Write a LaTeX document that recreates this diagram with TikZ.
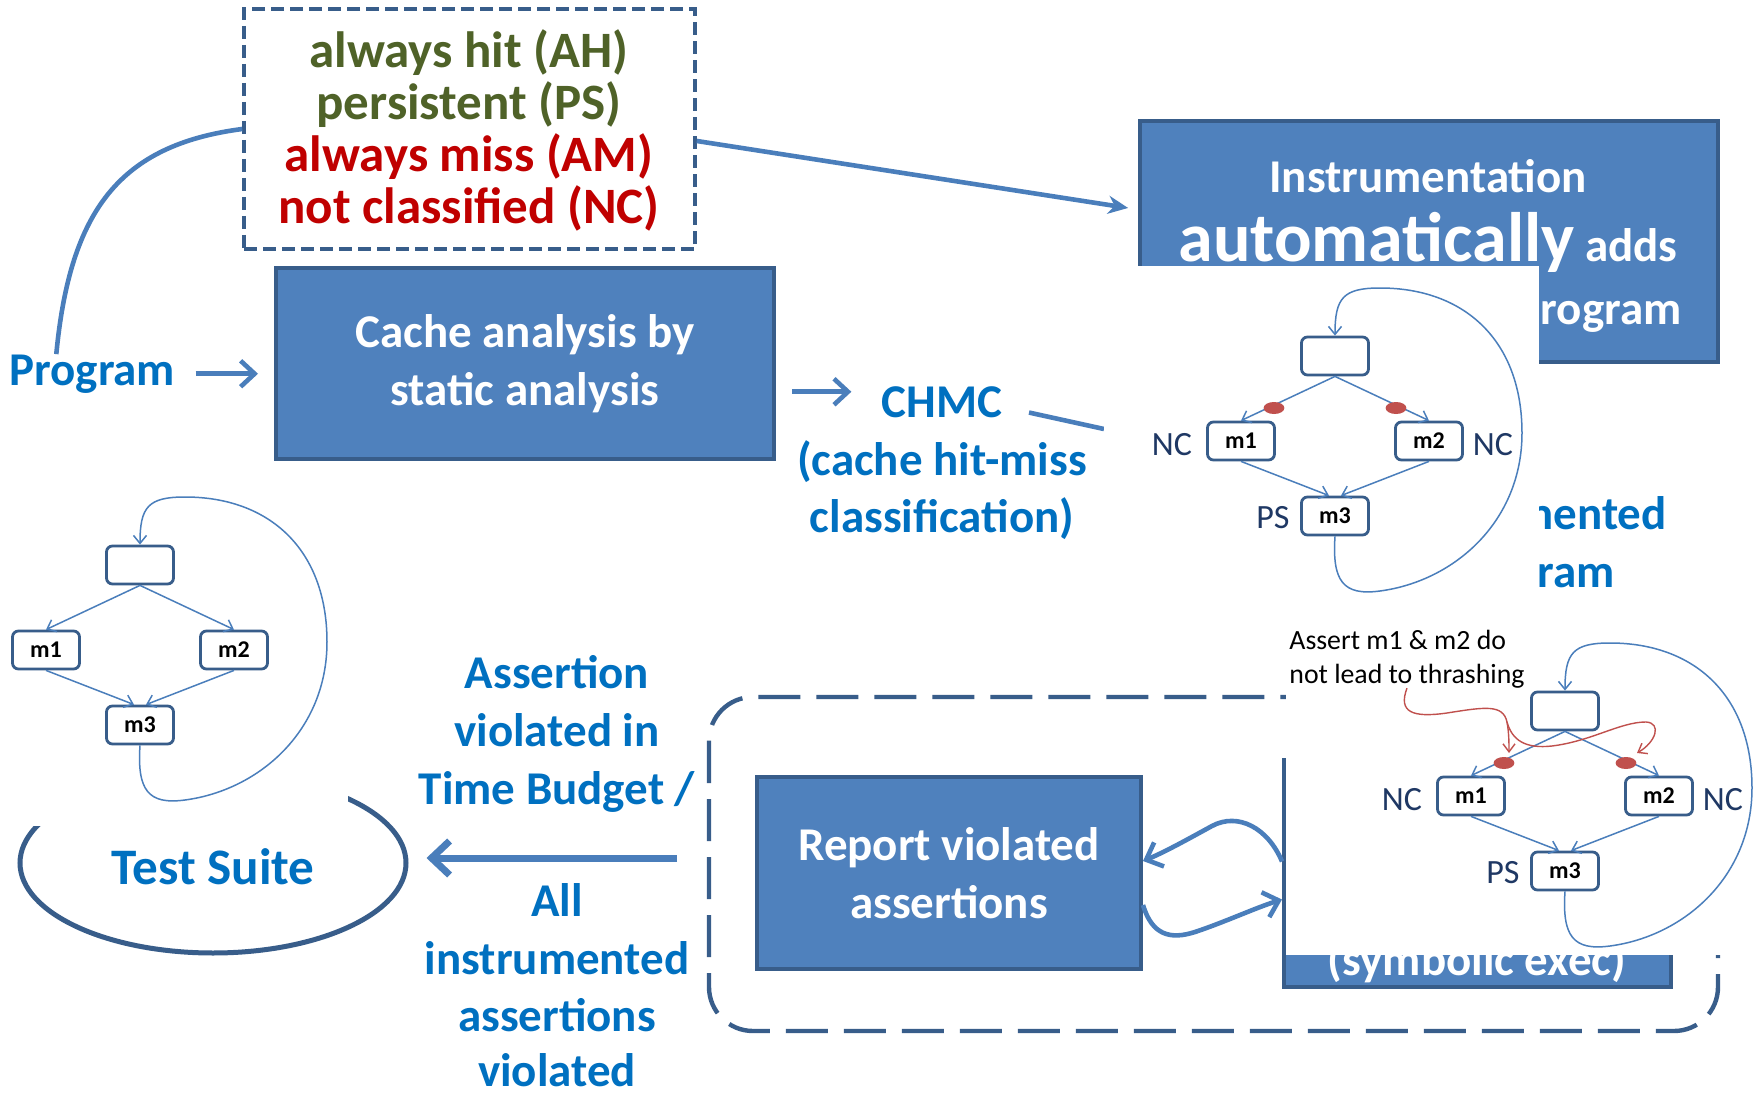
\documentclass[tikz,border=0pt]{standalone}
\usepackage{fontspec}
\setmainfont{Carlito}
\usetikzlibrary{arrows.meta,shapes.geometric}

\definecolor{boxfill}{HTML}{4F81BD}
\definecolor{boxline}{HTML}{385D8A}
\definecolor{linkblue}{HTML}{4A7EBB}
\definecolor{txtblue}{HTML}{0070C0}
\definecolor{clsnavy}{HTML}{1F3864}
\definecolor{hitgreen}{HTML}{4F6228}
\definecolor{missred}{HTML}{C00000}
\definecolor{dotred}{HTML}{C0504D}

\newcommand\txtmain{\fontsize{23.5}{29}\selectfont\bfseries}
\newcommand\txtcomic{\fontsize{25.5}{26}\selectfont\bfseries}
\newcommand\txthuge{\fontsize{35}{36}\selectfont\bfseries}
\newcommand\txtnote{\fontsize{13.9}{17}\selectfont}

\tikzset{
  lbl/.style={inner sep=0pt, font=\txtmain, text=txtblue, anchor=base},
  wlbl/.style={inner sep=0pt, font=\txtmain, text=white, anchor=base},
  comic/.style={inner sep=0pt, font=\txtcomic, anchor=base},
  note/.style={inner sep=0pt, font=\txtnote, anchor=base west},
  proc/.style={draw=boxline, fill=boxfill, line width=2pt, inner sep=0pt, align=center, font=\txtmain, text=white},
  cfgbox/.style={draw=boxline, fill=white, line width=1.4pt, rounded corners=3pt, minimum width=33.5pt, minimum height=19pt, inner sep=0pt, font=\bfseries\fontsize{12}{12}\selectfont},
  cfgedge/.style={draw=linkblue, line width=0.75pt, -{Straight Barb[length=4pt,width=6.5pt]}},
  cls/.style={inner sep=0pt, font=\fontsize{17}{18}\selectfont, text=clsnavy},
  flow/.style={draw=linkblue, line width=2.3pt},
  flowarrow/.style={flow, -{Straight Barb[length=7pt,width=13pt]}},
  cover/.style={fill=white, draw=none},
  notearrow/.style={draw=dotred, line width=0.7pt, -{Straight Barb[length=4pt,width=6pt]}},
}

% control-flow graph: entry block, m1, m2, m3 and the back edge
\newcommand\cfggraph[2]{%
\begin{scope}[shift={#2}]
  \node[cfgbox] (#1top) at (0,0) {};
  \node[cfgbox] (#1m1) at (-94,85) {m1};
  \node[cfgbox] (#1m2) at (94,85) {m2};
  \node[cfgbox] (#1m3) at (0,160) {m3};
  \draw[cfgedge] (#1top.south) -- (#1m1.north);
  \draw[cfgedge] (#1top.south) -- (#1m2.north);
  \draw[cfgedge] (#1m1.south) -- ([xshift=-3pt]#1m3.north);
  \draw[cfgedge] (#1m2.south) -- ([xshift=3pt]#1m3.north);
  \draw[cfgedge] (#1m3.south) .. controls (-3,225) and (8,240) .. (45,235)
     .. controls (120,225) and (187,165) .. (187,77)
     .. controls (187,-15) and (130,-68) .. (45,-68)
     .. controls (8,-68) and (0,-58) .. (#1top.north);
\end{scope}}

% classification labels and instrumentation points on a graph
\newcommand\cfgmarks[2]{%
\begin{scope}[shift={#2}]
  \node[cls] (#1nc1) at (-163,89) {NC};
  \node[cls] (#1nc2) at (158,89) {NC};
  \node[cls] (#1ps) at (-62,162) {PS};
  \coordinate (#1d1) at (-61,52);
  \coordinate (#1d2) at (61,52);
  \fill[dotred] (#1d1) ellipse [x radius=5.2pt, y radius=3pt];
  \fill[dotred] (#1d2) ellipse [x radius=5.2pt, y radius=3pt];
\end{scope}}

\begin{document}
\begin{tikzpicture}[x=0.5pt,y=-0.5pt]
\useasboundingbox (0,0) rectangle (1758,1097);
\fill[white] (0,0) rectangle (1758,1097);

% classification legend
\node[draw=boxline, fill=white, line width=1.8pt, dash pattern=on 6.5pt off 3pt,
      minimum width=225.5pt, minimum height=120pt, inner sep=0pt] (legend) at (469.5,129) {};
\node[comic, text=hitgreen] (ah) at (469,68) {always hit (AH)};
\node[comic, text=hitgreen] (ps) at (469,120) {persistent (PS)};
\node[comic, text=missred] (am) at (469,171) {always miss (AM)};
\node[comic, text=missred] (nc) at (469,223) {not classified (NC)};

% program and static cache analysis
\node[lbl, anchor=base west] (prog) at (9,385) {Program};
\draw[flow] ([xshift=-18pt]prog.north) .. controls (70,210) and (120,145) .. (legend.west);
\node[proc, minimum width=249pt, minimum height=95.5pt] (cache) at (525,363.5) {Cache analysis by\\static analysis};
\draw[flowarrow, shorten <=10pt, shorten >=8pt] (prog.east) -- (prog.east -| cache.west);

% instrumentation
\node[proc, minimum width=289pt, minimum height=120.5pt] (instr) at (1429,241.5) {};
\node[wlbl] (instr1) at (1428,192) {Instrumentation};
\node[wlbl] (instr2) at (1428,262) {{\txthuge automatically} adds};
\node[wlbl, anchor=base east] (instr3) at (1682,324) {program};
\draw[flow, -{Stealth[length=10pt,width=9pt]}, shorten >=5pt] ([yshift=-6pt]legend.east) -- ([yshift=16pt]instr.west);

\node[lbl] (ip1) at (1534,529) {Instrumented};
\node[lbl] (ip2) at (1532,587) {program};

% cache hit-miss classification
\node[lbl] (chmc) at (942,417) {CHMC};
\node[lbl] (chmc2) at (942,475) {(cache hit-miss};
\node[lbl] (chmc3) at (942,532) {classification)};
\coordinate (chmcin) at ([yshift=5pt]chmc.west);
\draw[flowarrow, shorten <=8pt, shorten >=15pt] (chmcin -| cache.east) -- (chmcin);
\coordinate (cfgin) at (1104,429);
\draw[flow, shorten <=13.5pt] ([yshift=-2.5pt]chmc.east) -- (cfgin);

% classified graph
\fill[cover] (1104,266) rectangle (1539,605);
\cfggraph{R}{(1335,356)}
\cfgmarks{R}{(1335,356)}

% test suite
\node[draw=boxline, line width=2.5pt, ellipse, minimum width=193pt, minimum height=90pt, inner sep=0pt] (suite) at (213,863) {};
\node[lbl, font=\fontsize{25.6}{28}\selectfont\bfseries] (suitetxt) at (213,884) {Test Suite};
\fill[cover] (0,740) rectangle (348,826);
\cfggraph{L}{(140,565)}

% test generation loop
\draw[boxline, line width=2.2pt, dash pattern=on 21pt off 8pt, rounded corners=22pt] (709,697) rectangle (1718,1031);
\node[proc, minimum width=192pt, minimum height=96pt] (rep) at (949,873) {Report violated\\assertions};
\node[proc, minimum width=193.5pt, minimum height=113.5pt] (sym) at (1477.5,873.5) {};
\node[wlbl] (symtxt) at (1477,975) {(symbolic exec)};
\fill[cover] (1285.5,623) rectangle (1758,955);
\cfggraph{B}{(1565,711)}
\cfgmarks{B}{(1565,711)}
\node[note] (note1) at (1289,649) {Assert m1 \& m2 do};
\node[note] (note2) at (1289,683) {not lead to thrashing};
\coordinate (redfork) at (1507,722);
\draw[draw=dotred, line width=0.7pt] (note2.south) .. controls (1398,712) and (1412,718) .. (1447,713)
   .. controls (1485,707) and (1503,704) .. (redfork);
\draw[notearrow] (redfork) .. controls (1509,733) and (1509,743) .. ([shift={(2.5pt,5pt)}]Bd1);
\draw[notearrow] (redfork) .. controls (1512,740) and (1525,749) .. (1552,746)
   .. controls (1592,741) and (1620,722) .. (1646,722)
   .. controls (1662,723) and (1656,742) .. ([shift={(5.5pt,5pt)}]Bd2);

\draw[flowarrow] ([yshift=6pt]sym.west) .. controls (1268,828) and (1238,812) .. (1212,826)
   .. controls (1190,838) and (1165,852) .. ([yshift=6pt]rep.east);
\draw[flowarrow] ([yshift=-16pt]rep.east) .. controls (1152,935) and (1170,940) .. (1195,932)
   .. controls (1225,922) and (1255,908) .. ([yshift=-13pt]sym.west);

% result back to the test suite
\coordinate (framew) at (709,858);
\draw[flow, line width=3.5pt, -{Straight Barb[length=9pt,width=17pt]}, shorten <=16pt, shorten >=9pt]
   (framew) -- (framew -| suite.east);
\node[lbl] (as1) at (557,688) {Assertion};
\node[lbl] (as2) at (557,746) {violated in};
\node[lbl] (as3) at (557,804) {Time Budget /};
\node[lbl] (al1) at (557,916) {All};
\node[lbl] (al2) at (557,974) {instrumented};
\node[lbl] (al3) at (557,1031) {assertions};
\node[lbl] (al4) at (557,1086) {violated};
\end{tikzpicture}
\end{document}
